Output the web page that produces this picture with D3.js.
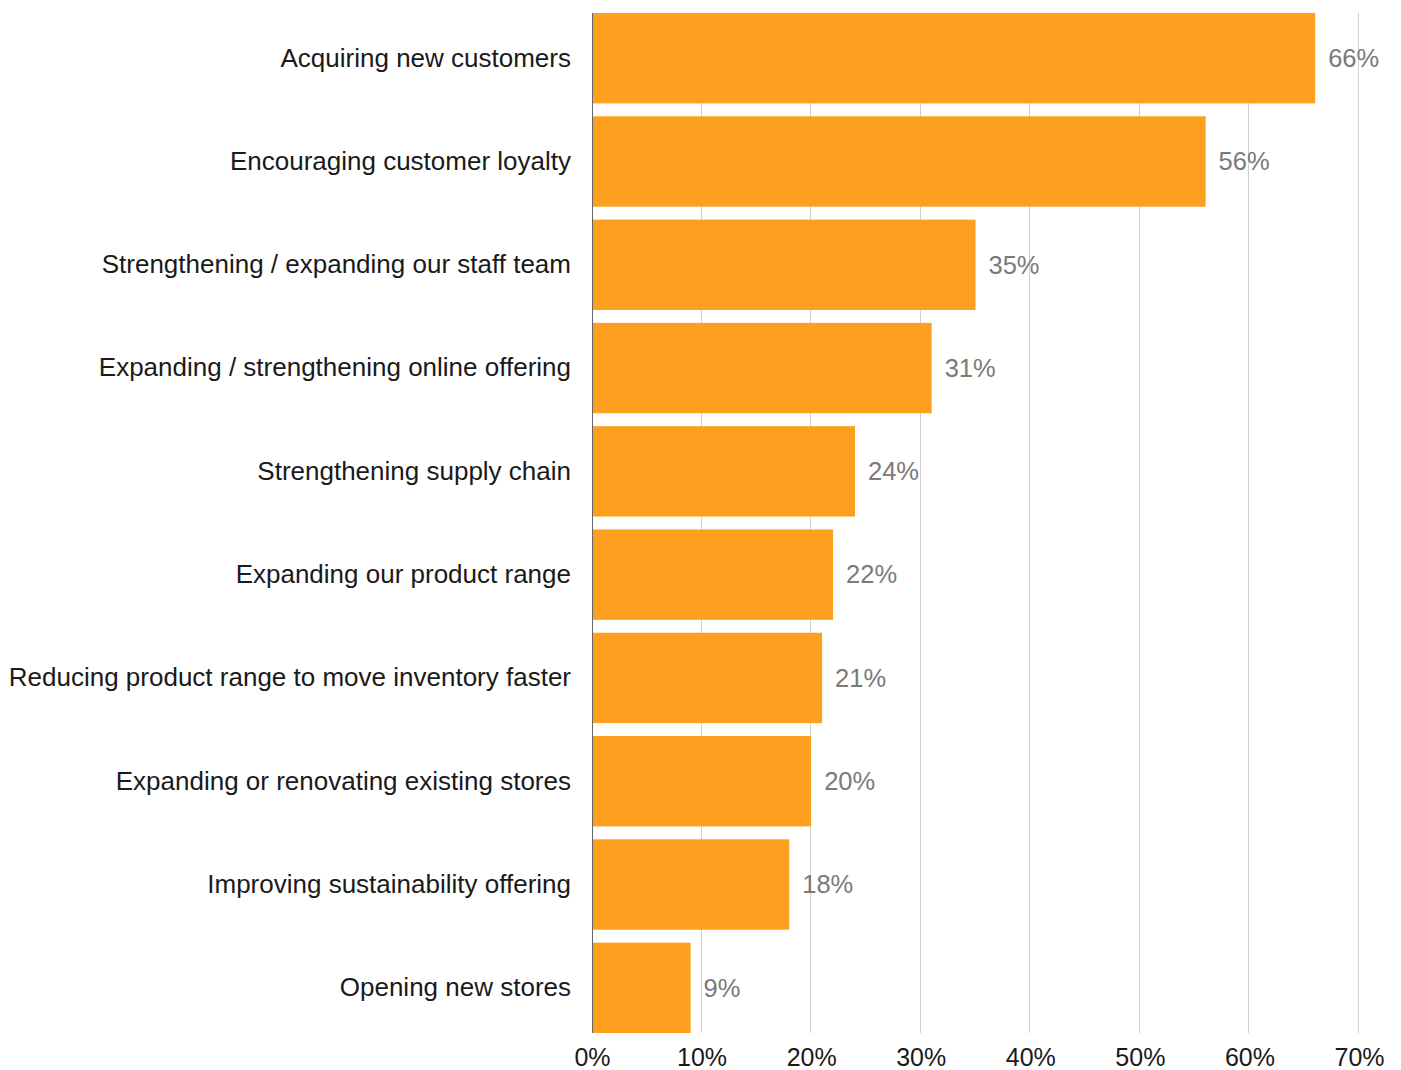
<!DOCTYPE html>
<html>
<head>
<meta charset="utf-8">
<script src="https://cdn.jsdelivr.net/npm/d3@7"></script>
<style>
  html, body { margin: 0; padding: 0; background: #fff; }
  svg text { font-family: "Liberation Sans", Arial, sans-serif; }
</style>
</head>
<body>
<svg id="chart" width="1401" height="1070"></svg>
<script>
// Business priorities and share of respondents (%)
const categories = [
  "Acquiring new customers",
  "Encouraging customer loyalty",
  "Strengthening / expanding our staff team",
  "Expanding / strengthening online offering",
  "Strengthening supply chain",
  "Expanding our product range",
  "Reducing product range to move inventory faster",
  "Expanding or renovating existing stores",
  "Improving sustainability offering",
  "Opening new stores"
];
const values = [66, 56, 35, 31, 24, 22, 21, 20, 18, 9];
const xTicks = [0, 10, 20, 30, 40, 50, 60, 70];

const svg = d3.select("#chart");
const plotLeft = 592, plotRight = 1359, plotTop = 13, plotBottom = 1033;

const x = d3.scaleLinear().domain([0, 70]).range([plotLeft, plotRight]);
const y = d3.scaleBand().domain(categories).range([plotTop, plotBottom])
  .paddingInner(0.125).paddingOuter(0);

// vertical gridlines
svg.append("g")
  .selectAll("line")
  .data(xTicks.filter(d => d > 0))
  .join("line")
  .attr("x1", d => Math.round(x(d)) - 0.5).attr("x2", d => Math.round(x(d)) - 0.5)
  .attr("y1", plotTop).attr("y2", plotBottom)
  .attr("stroke", "#d0d0d0").attr("stroke-width", 1);

// bars
svg.append("g")
  .selectAll("rect")
  .data(values)
  .join("rect")
  .attr("x", x(0))
  .attr("y", (d, i) => y(categories[i]))
  .attr("width", d => x(d) - x(0))
  .attr("height", y.bandwidth())
  .attr("fill", "#fd9f1f");

// zero baseline
svg.append("line")
  .attr("x1", x(0) + 0.5).attr("x2", x(0) + 0.5)
  .attr("y1", plotTop).attr("y2", plotBottom)
  .attr("stroke", "#666").attr("stroke-width", 1);

// value labels
svg.append("g")
  .selectAll("text")
  .data(values)
  .join("text")
  .attr("x", d => x(d) + 13)
  .attr("y", (d, i) => y(categories[i]) + y.bandwidth() / 2 + 2)
  .attr("dominant-baseline", "middle")
  .attr("font-size", 25.5)
  .attr("fill", "#7a7a7a")
  .text(d => d + "%");

// category axis
const yAxis = d3.axisLeft(y).tickSize(0).tickPadding(21);
const gy = svg.append("g").attr("transform", `translate(${plotLeft},0)`).call(yAxis);
gy.select(".domain").remove();
gy.selectAll("text").attr("font-size", 26).attr("fill", "#1a1a1a")
  .attr("font-family", "Liberation Sans, Arial, sans-serif");

// percentage axis
const xAxis = d3.axisBottom(x).tickValues(xTicks).tickFormat(d => d + "%")
  .tickSize(0).tickPadding(15);
const gx = svg.append("g").attr("transform", `translate(0,${plotBottom})`).call(xAxis);
gx.select(".domain").remove();
gx.selectAll("text").attr("font-size", 25).attr("fill", "#1a1a1a")
  .attr("font-family", "Liberation Sans, Arial, sans-serif");
</script>
</body>
</html>
